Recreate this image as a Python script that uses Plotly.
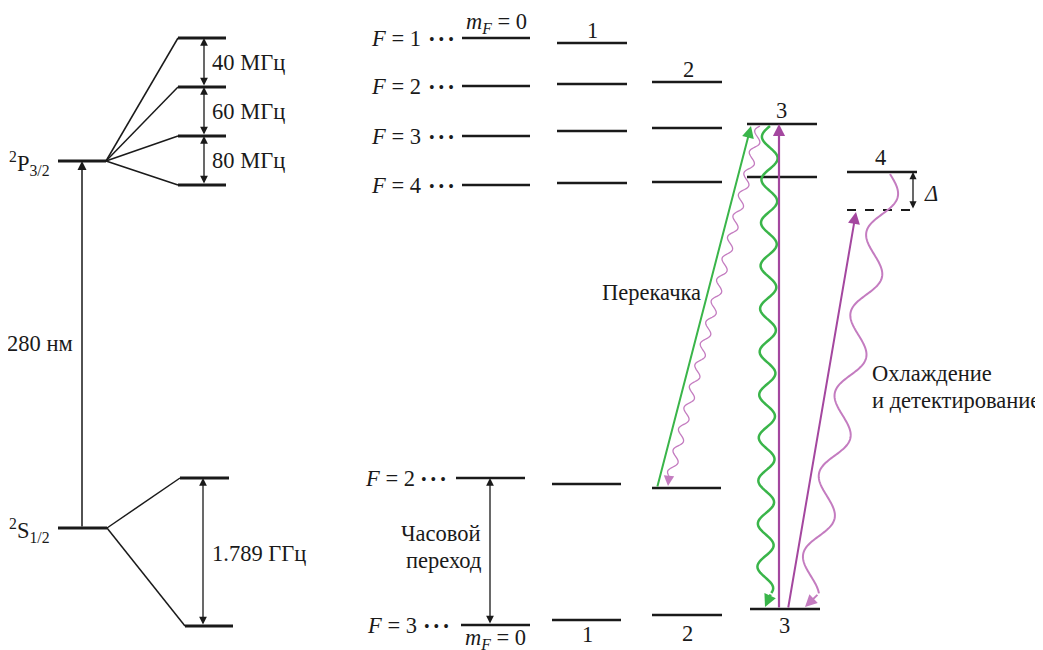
import numpy as np
import plotly.graph_objects as go

# ---------------- data (diagram geometry, in pixel units of the drawing) ----------------
# Left part: fine structure
p_level = [58, 106, 161]            # x0, x1, y of 2P3/2
s_level = [58, 107, 528]            # x0, x1, y of 2S1/2
p_hfs_y = [38, 87, 136, 185]        # hyperfine sub-levels of 2P3/2
p_hfs_x = [178, 226]
s_hfs = [[180, 229, 478], [185, 233, 626]]
p_gap_labels = ["40 МГц", "60 МГц", "80 МГц"]
s_gap_label = "1.789 ГГц"
optical_label = "280 нм"

# Right part: Zeeman sub-levels, upper manifold (columns mF = 0..4)
upper_F_labels = ["<i>F</i> = 1", "<i>F</i> = 2", "<i>F</i> = 3", "<i>F</i> = 4"]
upper_F_y = [38, 86, 136, 185]
col_x = [[462, 530], [557, 627], [652, 722], [747, 817], [847, 917]]
upper_levels_y = [
    [38, 86, 136, 185],     # mF = 0
    [43, 84, 131, 183],     # mF = 1
    [None, 82, 128, 182],   # mF = 2
    [None, None, 124, 177], # mF = 3
    [None, None, None, 172] # mF = 4
]
detuned_y = 210
col_numbers_top = ["1", "2", "3", "4"]

# Lower manifold
lower_F_labels = ["<i>F</i> = 2", "<i>F</i> = 3"]
lower_levels = [
    [[456, 525, 478], [552, 621, 484], [652, 721, 488]],
    [[461, 530, 625], [552, 621, 620], [652, 722, 615], [750, 820, 609]],
]
col_numbers_bottom = ["1", "2", "3"]

GREEN = "#3ab54a"
PURPLE = "#a4479f"
PINK = "#c47cc0"
FONT = "Liberation Serif"
FS = 22.5
OFF = 8  # page body margin compensation

fig = go.Figure()
shapes = []
ann = []


def hline(x0, x1, y, w=3, dash=None, color="#1a1a1a"):
    shapes.append(dict(type="line", x0=x0, x1=x1, y0=y, y1=y,
                       line=dict(color=color, width=w, dash=dash)))


def seg(x0, y0, x1, y1, w=1.5, color="#1a1a1a"):
    shapes.append(dict(type="line", x0=x0, x1=x1, y0=y0, y1=y1,
                       line=dict(color=color, width=w)))


def arrow(tx, ty, fx, fy, color="#1a1a1a", w=1.4, size=1.3, both=False, head=2):
    ann.append(dict(x=tx, y=ty, ax=fx, ay=fy, xref="x", yref="y", axref="x", ayref="y",
                    text="", showarrow=True, arrowhead=head, arrowsize=size, arrowwidth=w,
                    arrowcolor=color, arrowside="end+start" if both else "end",
                    startarrowhead=head, startarrowsize=size, standoff=0, startstandoff=0))


def label(x, y, text, xanchor="left", yanchor="middle", size=FS):
    ann.append(dict(x=x, y=y, xref="x", yref="y", text=text, showarrow=False,
                    xanchor=xanchor, yanchor=yanchor,
                    font=dict(family=FONT, size=size, color="#1a1a1a")))


def wave(x0, y0, x1, y1, amp, wl, color, width, head_len, head_size, phase=0.0):
    L = np.hypot(x1 - x0, y1 - y0)
    ux, uy = (x1 - x0) / L, (y1 - y0) / L
    nx, ny = -uy, ux
    body = L - head_len
    t = np.linspace(0, body, 300)
    off = amp * np.sin(2 * np.pi * t / wl + phase)
    xs = x0 + ux * t + nx * off
    ys = y0 + uy * t + ny * off
    path = "M " + " L ".join(f"{a:.2f},{b:.2f}" for a, b in zip(xs, ys))
    shapes.append(dict(type="path", path=path, xref="x", yref="y",
                       line=dict(color=color, width=width)))
    arrow(x1, y1, xs[-1], ys[-1], color=color, w=width, size=head_size)


# ---- left: fine structure ----
hline(p_level[0], p_level[1], p_level[2])
hline(s_level[0], s_level[1], s_level[2])
for y in p_hfs_y:
    hline(p_hfs_x[0], p_hfs_x[1], y)
    seg(p_level[1], p_level[2], p_hfs_x[0], y)
for x0, x1, y in s_hfs:
    hline(x0, x1, y)
    seg(s_level[1], s_level[2], x0, y)
for i, t in enumerate(p_gap_labels):
    arrow(204, p_hfs_y[i], 204, p_hfs_y[i + 1], both=True, w=1.3, size=1.2)
    label(210, (p_hfs_y[i] + p_hfs_y[i + 1]) / 2, t)
arrow(203, s_hfs[0][2], 203, s_hfs[1][2], both=True, w=1.3, size=1.2)
label(210, 553, s_gap_label)
arrow(82, p_level[2], 82, s_level[2], w=1.5, size=1.2)
label(75, 343, optical_label, xanchor="right")
label(52, 163, "<sup>2</sup>P<sub>3/2</sub>", xanchor="right")
label(52, 530, "<sup>2</sup>S<sub>1/2</sub>", xanchor="right")

# ---- right: upper manifold ----
for ci, ys in enumerate(upper_levels_y):
    for y in ys:
        if y is not None:
            hline(col_x[ci][0], col_x[ci][1], y, w=2.5)
hline(col_x[4][0], col_x[4][1], detuned_y, w=2, dash="dash")
arrow(913, upper_levels_y[4][3], 913, detuned_y, both=True, w=1.3, size=1.1)
label(931, 193, "<i>Δ</i>", xanchor="center")
for t, y in zip(upper_F_labels, upper_F_y):
    label(369, y, t)
    label(427, y + 1, "• • •", size=16)
label(496, 23, "<i>m</i><sub><i>F</i></sub> = 0", xanchor="center")
top_num_pos = [[592, 30], [688, 69], [781, 110], [880, 157]]
for t, (x, y) in zip(col_numbers_top, top_num_pos):
    label(x, y, t, xanchor="center")

# ---- lower manifold ----
for row in lower_levels:
    for x0, x1, y in row:
        hline(x0, x1, y, w=2.5)
label(363, 478, lower_F_labels[0])
label(419, 479, "• • •", size=16)
label(365, 625, lower_F_labels[1])
label(422, 626, "• • •", size=16)
label(495, 639, "<i>m</i><sub><i>F</i></sub> = 0", xanchor="center")
bot_num_pos = [[587, 634], [687, 633], [784, 625]]
for t, (x, y) in zip(col_numbers_bottom, bot_num_pos):
    label(x, y, t, xanchor="center")
arrow(490, 478, 490, 625, both=True, w=1.3, size=1.2)
label(483, 533, "Часовой", xanchor="right")
label(483, 560, "переход", xanchor="right")

# ---- laser arrows ----
arrow(751, 126, 657, 488, color=GREEN, w=2, size=1.2)
arrow(779, 124, 779, 609, color=PURPLE, w=2.2, size=1.1)
arrow(856, 212, 788, 609, color=PURPLE, w=2, size=1.2)

# ---- spontaneous decay (wavy) ----
wave(760, 126, 668, 486, amp=4, wl=22, color=PINK, width=1.3, head_len=10, head_size=1.6)
wave(770, 126, 765, 607, amp=8, wl=43, color=GREEN, width=2.5, head_len=14, head_size=1.0)
wave(890, 174, 805, 607, amp=12, wl=82, color=PINK, width=2, head_len=16, head_size=1.2, phase=np.pi)

label(600, 292, "Перекачка")
label(870, 373, "Охлаждение")
label(870, 400, "и детектирование")

fig.update_layout(
    width=1043, height=650, margin=dict(l=0, r=0, t=0, b=0),
    paper_bgcolor="white", plot_bgcolor="white",
    xaxis=dict(range=[OFF, 1043 + OFF], visible=False, fixedrange=True),
    yaxis=dict(range=[650 + OFF, OFF], visible=False, fixedrange=True),
    shapes=shapes, annotations=ann, showlegend=False,
)
fig.write_html("out.html")
